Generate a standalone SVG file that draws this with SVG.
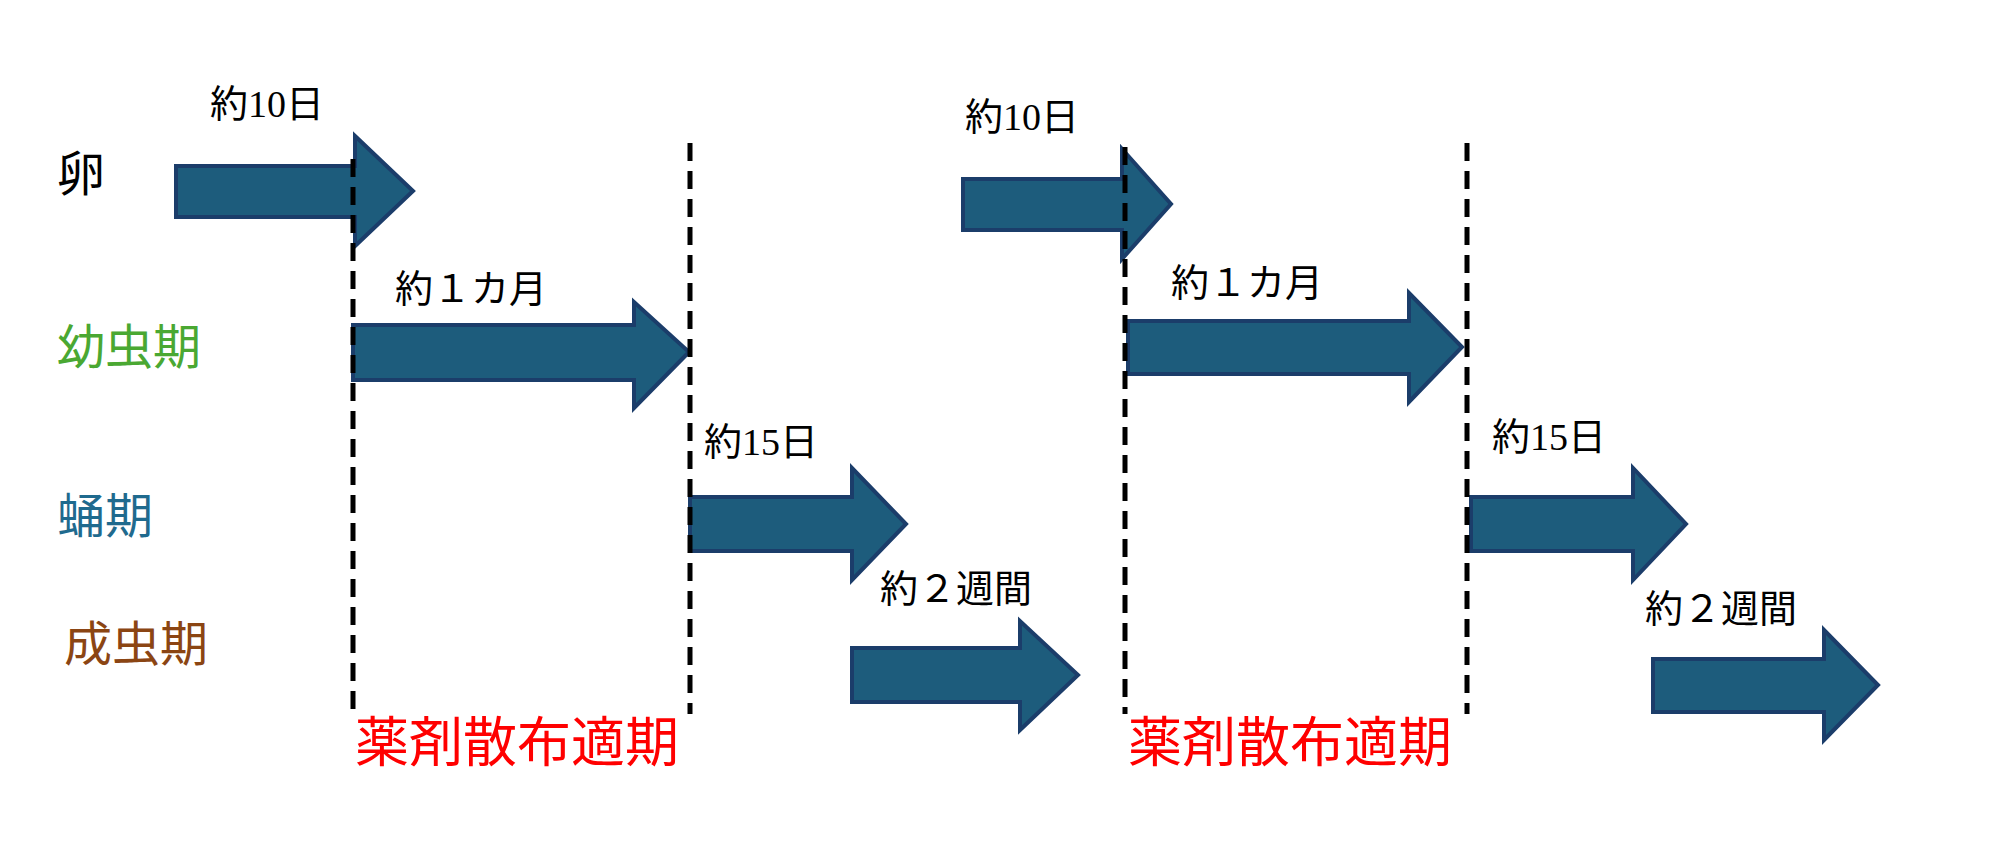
<svg xmlns="http://www.w3.org/2000/svg" width="2000" height="844" viewBox="0 0 2000 844">
<style>
.a{fill:#1d5c7c;stroke:#1b3d6a;stroke-width:4}
.d{stroke:#000;stroke-width:5;stroke-dasharray:18,10;fill:none}
text{font-family:"Liberation Serif","Noto Sans CJK JP",serif}
.t{font-size:38px;fill:#000}
.s{font-size:48px}
.r{font-size:54px;fill:#ff0000}
</style>
<rect width="2000" height="844" fill="#fff"/>
<g id="arrows">
<polygon class="a" points="176,166 355,166 355,136 413,191 355,246 355,217 176,217"/>
<polygon class="a" points="353,325 634,325 634,302 689,352 634,408 634,380 353,380"/>
<polygon class="a" points="690,497 852,497 852,468 906,524 852,580 852,551 690,551"/>
<polygon class="a" points="852,648 1020,648 1020,621 1078,675 1020,730 1020,702 852,702"/>
<polygon class="a" points="963,179 1122,179 1122,149 1171,204 1122,259 1122,230 963,230"/>
<polygon class="a" points="1128,321 1409,321 1409,293 1462,347 1409,402 1409,374 1128,374"/>
<polygon class="a" points="1471,497 1633,497 1633,468 1686,524 1633,580 1633,551 1471,551"/>
<polygon class="a" points="1653,659 1824,659 1824,630 1878,685 1824,740 1824,712 1653,712"/>
</g>
<g id="connectors">
<line class="d" x1="353" y1="159" x2="353" y2="714"/>
<line class="d" x1="690" y1="143" x2="690" y2="714"/>
<line class="d" x1="1125" y1="147" x2="1125" y2="714"/>
<line class="d" x1="1467" y1="143" x2="1467" y2="714"/>
</g>
<g id="labels">
<text class="t" x="210" y="117">約10日</text>
<text class="t" x="395" y="302">約１カ月</text>
<text class="t" x="704" y="455">約15日</text>
<text class="t" x="880" y="602">約２週間</text>
<text class="t" x="965" y="130">約10日</text>
<text class="t" x="1171" y="296">約１カ月</text>
<text class="t" x="1492" y="450">約15日</text>
<text class="t" x="1645" y="622">約２週間</text>
</g>
<g id="stages">
<text class="s" x="57" y="191" fill="#000">卵</text>
<text class="s" x="57" y="364" fill="#4aa832">幼虫期</text>
<text class="s" x="57" y="533" fill="#1f6a8e">蛹期</text>
<text class="s" x="64" y="661" fill="#8b4513">成虫期</text>
</g>
<g id="periods">
<text class="r" x="355" y="762">薬剤散布適期</text>
<text class="r" x="1128" y="762">薬剤散布適期</text>
</g>
</svg>
